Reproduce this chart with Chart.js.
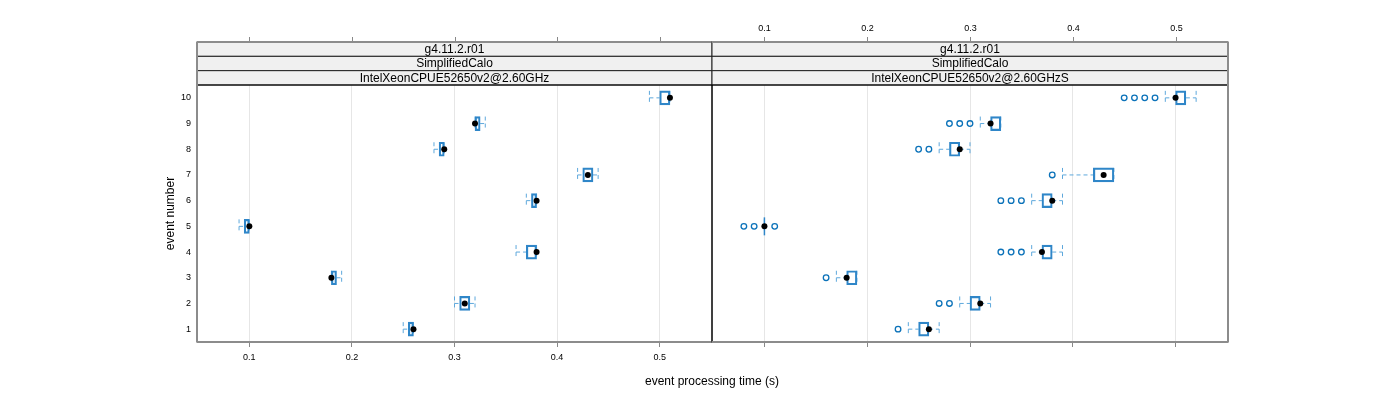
<!DOCTYPE html>
<html>
<head>
<meta charset="utf-8">
<script src="https://cdn.jsdelivr.net/npm/chart.js@4.4.1/dist/chart.umd.min.js"></script>
<style>
  html, body { margin: 0; padding: 0; background: #fff; }
  #wrap { position: relative; width: 1400px; height: 400px; font-family: 'Liberation Sans', Arial, sans-serif; }
  #wrap canvas { position: absolute; left: 0; top: 0; }
  #xtitle { position: absolute; left: 412px; width: 600px; top: 374px; text-align: center; font-size: 12px; color: #000; }
</style>
</head>
<body>
<div id="wrap">
  <canvas id="panelA" width="1400" height="400"></canvas>
  <canvas id="panelB" width="1400" height="400"></canvas>
  <div id="xtitle">event processing time (s)</div>
</div>
<script>
// bwplot of event processing time, two panels (lattice style)

const events = [1, 2, 3, 4, 5, 6, 7, 8, 9, 10];
const xTicks = [0.1, 0.2, 0.3, 0.4, 0.5];
const stripsA = ['g4.11.2.r01', 'SimplifiedCalo', 'IntelXeonCPUE52650v2@2.60GHz'];
const stripsB = ['g4.11.2.r01', 'SimplifiedCalo', 'IntelXeonCPUE52650v2@2.60GHzS'];

// left panel: whisker low, box q1, median, box q3, whisker high (per event 1..10)
const loA  = [0.25, 0.30, 0.18, 0.36, 0.09, 0.37, 0.42, 0.28, 0.32, 0.49];
const q1A  = [0.255, 0.305, 0.18, 0.37, 0.095, 0.375, 0.425, 0.285, 0.32, 0.50];
const medA = [0.26, 0.31, 0.18, 0.38, 0.10, 0.38, 0.43, 0.29, 0.32, 0.51];
const q3A  = [0.26, 0.315, 0.185, 0.38, 0.10, 0.38, 0.435, 0.29, 0.325, 0.51];
const hiA  = [0.26, 0.32, 0.19, 0.38, 0.10, 0.38, 0.44, 0.29, 0.33, 0.51];
const outA = [[], [], [], [], [], [], [], [], [], []];

// right panel
const loB  = [0.24, 0.29, 0.17, 0.36, 0.10, 0.36, 0.39, 0.27, 0.31, 0.49];
const q1B  = [0.25, 0.30, 0.18, 0.37, 0.10, 0.37, 0.42, 0.28, 0.32, 0.50];
const medB = [0.26, 0.31, 0.18, 0.37, 0.10, 0.38, 0.43, 0.29, 0.32, 0.50];
const q3B  = [0.26, 0.31, 0.19, 0.38, 0.10, 0.38, 0.44, 0.29, 0.33, 0.51];
const hiB  = [0.27, 0.32, 0.19, 0.39, 0.10, 0.39, 0.44, 0.30, 0.33, 0.52];
const outB = [[0.23], [0.27, 0.28], [0.16], [0.33, 0.34, 0.35], [0.08, 0.09, 0.11],
              [0.33, 0.34, 0.35], [0.38], [0.25, 0.26], [0.28, 0.29, 0.30], [0.45, 0.46, 0.47, 0.48]];

const BOX_COL = '#2f86c8';
const WHISK_COL = '#5ea8dc';
const OUT_COL = '#0b72b9';
const FONT = "'Liberation Sans', Arial, sans-serif";
const BOX_H = 14;

// whiskers, drawn under the boxes with the chart's own scales
function whiskerPlugin(lo, q1, q3, hi) {
    return {
        id: 'whiskers',
        beforeDatasetsDraw(chart) {
            const xs = chart.scales.x, ys = chart.scales.y;
            const ctx = chart.ctx;
            ctx.save();
            ctx.strokeStyle = WHISK_COL;
            ctx.lineWidth = 1;
            events.forEach((ev, i) => {
                const y = ys.getPixelForValue(ev);
                const xl = xs.getPixelForValue(lo[i]), x1 = xs.getPixelForValue(q1[i]);
                const x3 = xs.getPixelForValue(q3[i]), xh = xs.getPixelForValue(hi[i]);
                ctx.setLineDash([4, 3]);
                ctx.beginPath();
                ctx.moveTo(xl, y); ctx.lineTo(x1, y);
                ctx.moveTo(x3, y); ctx.lineTo(xh, y);
                ctx.moveTo(xl, y - BOX_H / 2); ctx.lineTo(xl, y + BOX_H / 2);
                ctx.moveTo(xh, y - BOX_H / 2); ctx.lineTo(xh, y + BOX_H / 2);
                ctx.stroke();
                if (q1[i] === q3[i]) {
                    ctx.setLineDash([]);
                    ctx.strokeStyle = BOX_COL;
                    ctx.lineWidth = 1.5;
                    ctx.beginPath();
                    ctx.moveTo(x1, y - BOX_H / 2 - 2); ctx.lineTo(x1, y + BOX_H / 2 + 2);
                    ctx.stroke();
                    ctx.strokeStyle = WHISK_COL;
                    ctx.lineWidth = 1;
                }
            });
            ctx.restore();
        }
    };
}

// strips, top tick marks and panel frame
function decorPlugin(strips, topLabels, side) {
    return {
        id: 'decor',
        afterDraw(chart) {
            const ctx = chart.ctx;
            const a = chart.chartArea;
            const xs = chart.scales.x;
            const stripTop = 42;
            const rowH = (a.top - stripTop) / strips.length;
            ctx.save();
            // strips
            strips.forEach((txt, i) => {
                const y0 = stripTop + i * rowH;
                ctx.fillStyle = '#f0f0f0';
                ctx.fillRect(a.left, y0, a.right - a.left, rowH);
                ctx.strokeStyle = '#222';
                ctx.lineWidth = 1;
                ctx.strokeRect(a.left, y0, a.right - a.left, rowH);
                ctx.fillStyle = '#000';
                ctx.font = '12px ' + FONT;
                ctx.textAlign = 'center';
                ctx.textBaseline = 'middle';
                ctx.fillText(txt, (a.left + a.right) / 2, y0 + rowH / 2 + 0.5);
            });
            // top tick marks (labels only on the right panel)
            ctx.strokeStyle = '#888';
            ctx.lineWidth = 1;
            xTicks.forEach(v => {
                const x = Math.round(xs.getPixelForValue(v)) + 0.5;
                ctx.beginPath();
                ctx.moveTo(x, stripTop); ctx.lineTo(x, stripTop - 5);
                ctx.stroke();
                if (topLabels) {
                    ctx.fillStyle = '#000';
                    ctx.font = '9px ' + FONT;
                    ctx.textAlign = 'center';
                    ctx.textBaseline = 'middle';
                    ctx.fillText(String(v), x, 28.5);
                }
            });
            // panel frame
            ctx.strokeStyle = '#000';
            ctx.lineWidth = 1;
            ctx.strokeRect(a.left, a.top, a.right - a.left, a.bottom - a.top);
            // outer gray axis lines
            ctx.strokeStyle = '#8c8c8c';
            ctx.lineWidth = 2;
            ctx.beginPath();
            ctx.moveTo(a.left, a.bottom); ctx.lineTo(a.right, a.bottom);
            ctx.moveTo(a.left, stripTop); ctx.lineTo(a.right, stripTop);
            if (side === 'left') {
                ctx.moveTo(a.left, stripTop); ctx.lineTo(a.left, a.bottom);
            } else {
                ctx.moveTo(a.right, stripTop); ctx.lineTo(a.right, a.bottom);
            }
            ctx.stroke();
            ctx.restore();
        }
    };
}

function makePanel(canvasId, lo, q1, med, q3, hi, out, strips, isLeft) {
    const outPts = [];
    out.forEach((vals, i) => vals.forEach(v => outPts.push({ x: v, y: events[i] })));

    return new Chart(document.getElementById(canvasId), {
        type: 'bar',
        data: {
            datasets: [{
                type: 'bar',
                data: events.map((ev, i) => ({ x: [q1[i], q3[i]], y: ev })),
                backgroundColor: 'rgba(0,0,0,0)',
                borderColor: BOX_COL,
                borderWidth: 1.5,
                borderSkipped: false,
                barThickness: BOX_H,
                order: 3
            }, {
                type: 'scatter',
                data: outPts,
                pointStyle: 'circle',
                pointRadius: 2.8,
                backgroundColor: 'rgba(0,0,0,0)',
                borderColor: OUT_COL,
                borderWidth: 1.3,
                order: 2
            }, {
                type: 'scatter',
                data: events.map((ev, i) => ({ x: med[i], y: ev })),
                pointStyle: 'circle',
                pointRadius: 3,
                backgroundColor: '#000',
                borderColor: '#000',
                borderWidth: 0,
                order: 1
            }]
        },
        options: {
            indexAxis: 'y',
            responsive: false,
            animation: false,
            layout: { padding: isLeft ? { left: 158, right: 688, top: 85, bottom: 0 }
                                      : { left: 712, right: 172, top: 85, bottom: 0 } },
            plugins: { legend: { display: false }, tooltip: { enabled: false } },
            scales: {
                x: {
                    type: 'linear',
                    min: 0.049,
                    max: 0.551,
                    offset: false,
                    afterBuildTicks: s => { s.ticks = xTicks.map(v => ({ value: v })); },
                    afterFit: s => { s.height = 58; },
                    grid: { color: '#e6e6e6', tickColor: '#888', tickLength: 5, offset: false },
                    border: { display: false },
                    ticks: {
                        display: isLeft,
                        color: '#000',
                        font: { family: FONT, size: 9 },
                        padding: 5,
                        maxRotation: 0,
                        callback: v => String(v)
                    }
                },
                y: {
                    type: 'linear',
                    display: isLeft,
                    min: 0.5,
                    max: 10.5,
                    offset: false,
                    afterBuildTicks: s => { s.ticks = events.map(v => ({ value: v })); },
                    afterFit: s => { s.width = isLeft ? 39 : 0; },
                    grid: { display: false, drawTicks: false, offset: false },
                    border: { display: false },
                    ticks: { color: '#000', font: { family: FONT, size: 9 }, padding: 6 },
                    title: {
                        display: true,
                        text: 'event number',
                        color: '#000',
                        font: { family: FONT, size: 12 },
                        padding: { top: 5, bottom: 0 }
                    }
                }
            }
        },
        plugins: [whiskerPlugin(lo, q1, q3, hi), decorPlugin(strips, !isLeft, isLeft ? 'left' : 'right')]
    });
}

makePanel('panelA', loA, q1A, medA, q3A, hiA, outA, stripsA, true);
makePanel('panelB', loB, q1B, medB, q3B, hiB, outB, stripsB, false);
</script>
</body>
</html>
